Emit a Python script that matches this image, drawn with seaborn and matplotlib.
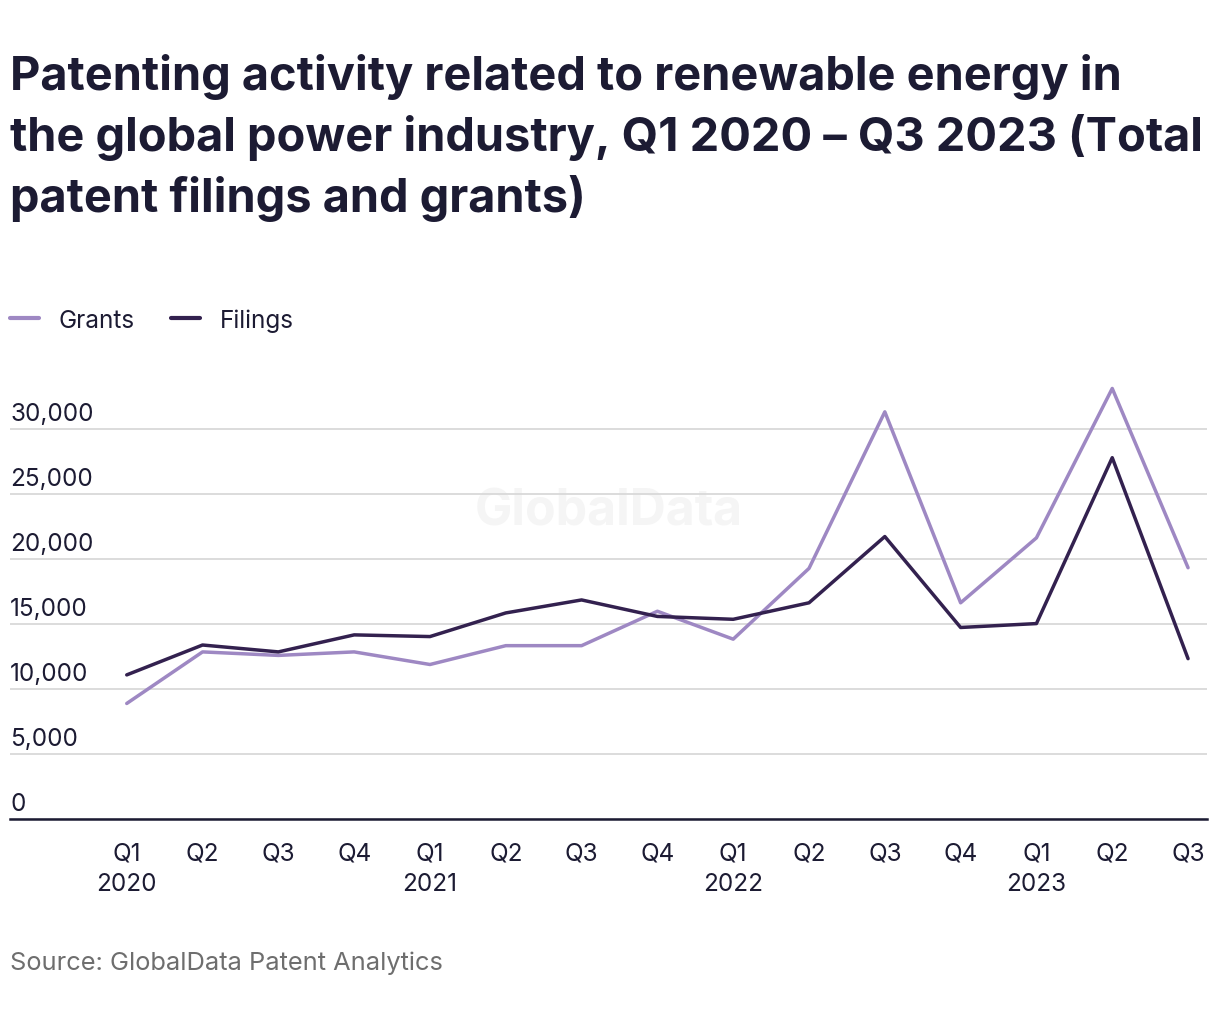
import pandas as pd
import matplotlib.pyplot as plt
import seaborn as sns

# values
quarters = ["Q1\n2020", "Q2", "Q3", "Q4", "Q1\n2021", "Q2", "Q3", "Q4",
            "Q1\n2022", "Q2", "Q3", "Q4", "Q1\n2023", "Q2", "Q3"]
grants = [8900, 12870, 12600, 12870, 11900, 13350, 13350, 16000,
          13850, 19300, 31350, 16650, 21650, 33150, 19350]
filings = [11100, 13400, 12870, 14180, 14050, 15870, 16870, 15600,
           15380, 16650, 21750, 14750, 15050, 27820, 12350]
y_ticks = [0, 5000, 10000, 15000, 20000, 25000, 30000]

df = pd.DataFrame({
    'idx': list(range(len(quarters))) * 2,
    'value': grants + filings,
    'series': ['Grants'] * len(grants) + ['Filings'] * len(filings),
})

sns.set_theme(style='white')
plt.rcParams['font.family'] = ['Inter', 'DejaVu Sans']
dark = '#1c1b33'

fig = plt.figure(figsize=(12.2, 10.2), dpi=100)
ax = fig.add_axes([10 / 1220, 0.196, 1197 / 1220, 0.433])

# watermark
ax.text(0.5, 0.697, 'GlobalData', transform=ax.transAxes, ha='center', va='center',
        fontsize=36, fontweight='bold', color='#f5f5f5', zorder=0)

sns.lineplot(data=df, x='idx', y='value', hue='series',
             palette={'Grants': '#9e88c3', 'Filings': '#33214f'},
             linewidth=2.5, ax=ax, legend=False, zorder=3)

ax.set_xlim(-1.54, 14.25)
ax.set_ylim(0, 34000)
ax.set_yticks(y_ticks)
ax.set_yticklabels([])
ax.tick_params(axis='y', length=0)
ax.grid(axis='y', color='#d9d9d9', linewidth=1.3, zorder=1)
ax.set_xticks(range(len(quarters)))
ax.set_xticklabels(quarters, fontsize=17.5, color=dark, linespacing=1.4)
ax.tick_params(axis='x', length=0, pad=16)
ax.set_xlabel('')
ax.set_ylabel('')
for s in ['top', 'right', 'left']:
    ax.spines[s].set_visible(False)
ax.spines['bottom'].set_color(dark)
ax.spines['bottom'].set_linewidth(1.8)
ax.spines['bottom'].set_zorder(4)

for v in y_ticks:
    ax.annotate(f'{v:,}', xy=(0, v), xycoords=('axes fraction', 'data'),
                xytext=(0, 6.5), textcoords='offset points',
                ha='left', va='baseline', fontsize=17.5, color=dark)

fig.text(10 / 1220, 1 - 54 / 1020,
         'Patenting activity related to renewable energy in\n'
         'the global power industry, Q1 2020 \u2013 Q3 2023 (Total\n'
         'patent filings and grants)',
         ha='left', va='top', fontsize=33.8, fontweight='bold', color=dark,
         linespacing=1.38)

handles = [plt.Line2D([], [], color='#9e88c3', linewidth=3, solid_capstyle='round'),
           plt.Line2D([], [], color='#33214f', linewidth=3, solid_capstyle='round')]
fig.legend(handles, ['Grants', 'Filings'], loc='center left',
           bbox_to_anchor=(10 / 1220, 1 - 321 / 1020), ncol=2, frameon=False,
           fontsize=17.5, handlelength=1.2, handletextpad=0.8, columnspacing=1.5,
           labelcolor=dark, borderaxespad=0, borderpad=0)

fig.text(10 / 1220, 1 - 963 / 1020, 'Source: GlobalData Patent Analytics',
         ha='left', va='center', fontsize=18.3, color='#6e6e6e')

fig.savefig('out.png', dpi=100)
